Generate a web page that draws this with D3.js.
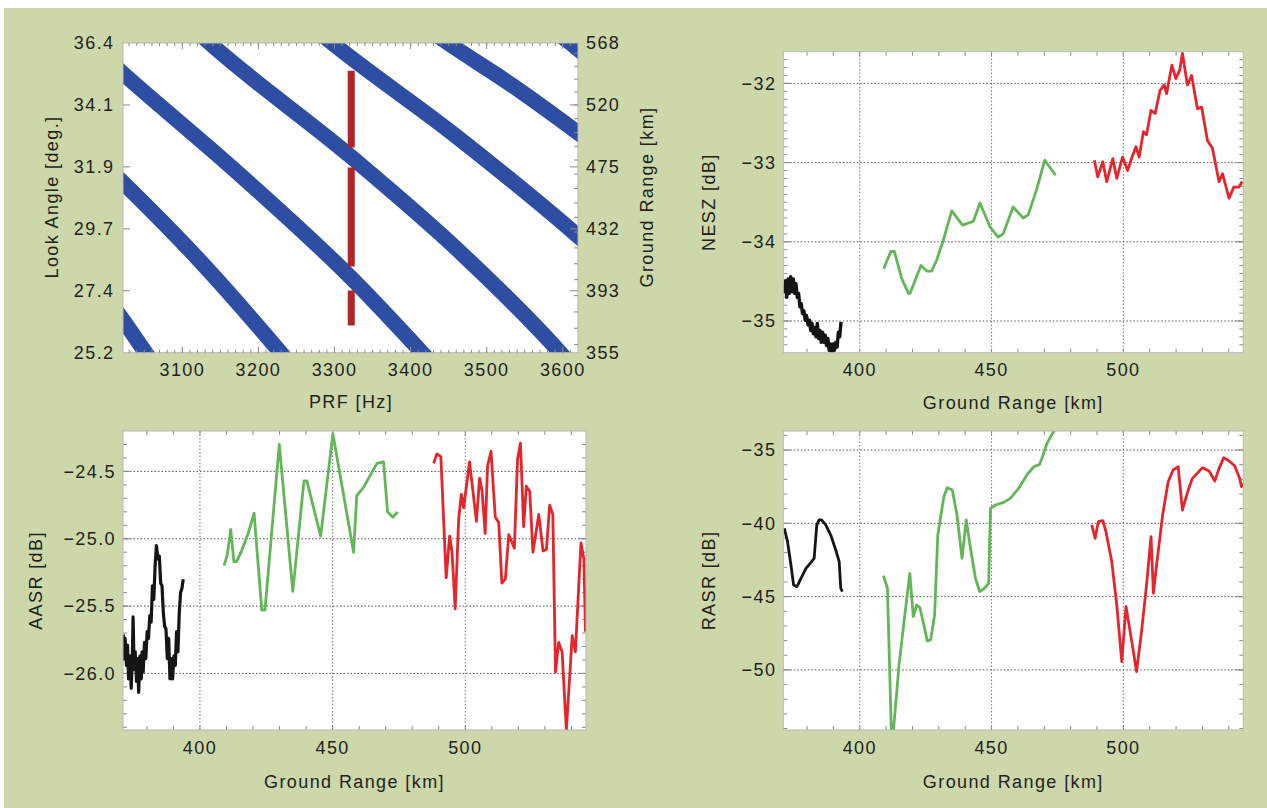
<!DOCTYPE html>
<html>
<head>
<meta charset="utf-8">
<script src="https://cdn.jsdelivr.net/npm/d3@7"></script>
<style>
  body { margin: 0; background: #fff; }
  svg text { font-family: "Liberation Sans", Arial, Helvetica, sans-serif; fill: #231f20; font-size: 18px; letter-spacing: 1.4px; }
</style>
</head>
<body>
<svg id="fig" width="1267" height="808"></svg>
<script>
// ---------- timing diagram (top left) ----------
// blanking bands, centre line as [PRF Hz, look angle deg]
const prfBands = [
  [[3005, 27.03], [3022, 26.38], [3051, 25.23], [3064, 24.72]],
  [[2998, 31.99], [3022, 31.35], [3123, 28.52], [3228, 25.24], [3244, 24.72]],
  [[2998, 35.89], [3022, 35.30], [3176, 31.63], [3322, 27.90], [3415, 25.20], [3431, 24.72]],
  [[3117, 36.87], [3136, 36.40], [3322, 32.28], [3465, 28.84], [3596, 25.22], [3612, 24.72]],
  [[3276, 36.87], [3297, 36.40], [3458, 33.07], [3620, 29.42], [3638, 28.99]],
  [[3428, 36.80], [3449, 36.40], [3535, 34.84], [3620, 33.15], [3638, 32.78]],
  [[3590, 36.80], [3610, 36.40], [3620, 36.18], [3638, 35.79]]
];
const selectedPrf = 3322;
const selectedSegments = [[35.40, 32.62], [31.90, 28.32], [27.45, 26.18]];
const lookTicks = [25.2, 27.44, 29.68, 31.92, 34.16, 36.4];
const lookTickLabels = ["25.2", "27.4", "29.7", "31.9", "34.1", "36.4"];
const rangeTicks = [355, 393, 432, 475, 520, 568];
const prfTicks = [3100, 3200, 3300, 3400, 3500, 3600];

// ---------- performance curves, [ground range km, dB] ----------
const neszBlack = [
  [371.3, -34.65], [371.8, -34.49], [372.3, -34.70], [372.8, -34.47], [373.3, -34.65], [373.8, -34.44],
  [374.3, -34.63], [374.8, -34.47], [375.3, -34.65], [375.8, -34.53], [376.3, -34.70], [376.8, -34.65],
  [377.3, -34.82], [377.8, -34.78], [378.3, -34.91], [378.8, -34.87], [379.3, -34.99], [379.8, -34.93],
  [380.4, -35.05], [380.9, -34.99], [381.4, -35.12], [381.9, -35.03], [382.4, -35.16], [382.9, -35.08],
  [383.4, -35.20], [383.9, -35.03], [384.4, -35.22], [384.9, -35.12], [385.4, -35.27], [385.9, -35.14],
  [386.4, -35.27], [386.9, -35.18], [387.4, -35.31], [387.9, -35.22], [388.4, -35.37], [388.9, -35.29],
  [389.4, -35.39], [389.9, -35.29], [390.4, -35.37], [390.9, -35.27], [391.4, -35.33], [391.9, -35.14],
  [392.4, -35.20], [392.9, -35.01]
];
const neszGreen = [
  [409.1, -34.34], [411.8, -34.12], [413.1, -34.12], [416.0, -34.47], [418.5, -34.65], [419.1, -34.65],
  [423.2, -34.30], [425.4, -34.37], [427.3, -34.37], [429.2, -34.23], [431.7, -33.98], [434.9, -33.61],
  [439.0, -33.79], [443.1, -33.74], [445.6, -33.51], [449.4, -33.81], [452.5, -33.94], [454.4, -33.90],
  [458.2, -33.56], [462.0, -33.70], [463.9, -33.66], [467.0, -33.35], [470.2, -32.97], [474.3, -33.16]
];
const neszRed = [
  [489.0, -32.97], [490.3, -33.18], [492.2, -32.99], [493.7, -33.24], [496.0, -32.95], [497.5, -33.20],
  [498.7, -33.05], [499.7, -32.93], [501.6, -33.10], [503.5, -32.91], [504.8, -32.80], [506.0, -32.93],
  [507.6, -32.61], [508.8, -32.65], [510.5, -32.34], [512.1, -32.38], [513.9, -32.09], [515.5, -32.02],
  [516.4, -32.13], [518.4, -31.77], [519.9, -31.94], [521.4, -31.83], [522.4, -31.62], [524.3, -32.02],
  [525.9, -31.90], [528.1, -32.32], [529.7, -32.30], [531.9, -32.72], [533.8, -32.82], [536.3, -33.24],
  [537.6, -33.14], [540.1, -33.45], [541.9, -33.31], [543.8, -33.31], [545.1, -33.24]
];

const aasrBlack = [
  [371.1, -25.71], [371.4, -25.89], [371.8, -25.74], [372.3, -25.94], [372.7, -25.79], [373.1, -26.04],
  [373.6, -25.87], [374.1, -26.11], [374.5, -25.89], [374.8, -25.58], [375.2, -25.97], [375.6, -25.84],
  [376.1, -26.06], [376.5, -25.89], [376.9, -26.14], [377.4, -25.87], [377.9, -26.04], [378.2, -25.84],
  [378.6, -25.99], [379.1, -25.77], [379.6, -25.89], [380.1, -25.69], [380.6, -25.74], [381.1, -25.57],
  [381.6, -25.62], [382.1, -25.35], [382.6, -25.45], [383.1, -25.20], [383.6, -25.05], [384.2, -25.15],
  [384.7, -25.13], [385.2, -25.33], [385.7, -25.35], [386.2, -25.55], [386.7, -25.65], [387.2, -25.67],
  [387.7, -25.89], [388.2, -25.74], [388.7, -26.04], [389.2, -25.89], [389.7, -26.04], [390.2, -25.87],
  [390.7, -25.94], [391.2, -25.69], [391.7, -25.84], [392.2, -25.55], [392.7, -25.40], [393.2, -25.37],
  [393.7, -25.30]
];
const aasrGreen = [
  [409.1, -25.20], [410.3, -25.12], [411.6, -24.93], [412.8, -25.17], [413.8, -25.17], [415.7, -25.09],
  [418.2, -24.96], [420.4, -24.81], [423.3, -25.53], [424.5, -25.53], [429.9, -24.30], [435.0, -25.39],
  [439.2, -24.57], [440.3, -24.57], [445.5, -24.98], [450.1, -24.22], [457.9, -25.10], [459.1, -24.68],
  [461.6, -24.62], [466.7, -24.44], [469.2, -24.43], [470.7, -24.80], [472.7, -24.84], [474.5, -24.80]
];
const aasrRed = [
  [488.1, -24.44], [489.3, -24.37], [490.8, -24.39], [492.8, -25.29], [494.1, -24.98], [495.0, -25.10],
  [496.2, -25.52], [497.5, -24.86], [498.5, -24.67], [499.4, -24.77], [501.6, -24.43], [504.2, -24.87],
  [505.4, -24.55], [506.3, -24.64], [507.5, -24.96], [508.4, -24.46], [509.7, -24.35], [511.3, -24.84],
  [512.6, -24.88], [513.8, -25.33], [515.1, -25.30], [516.4, -24.97], [518.5, -25.07], [519.7, -24.41],
  [520.8, -24.29], [522.0, -24.91], [523.0, -24.61], [524.3, -24.65], [525.5, -25.10], [527.7, -24.82],
  [529.3, -25.09], [530.6, -25.08], [531.8, -24.75], [533.0, -24.82], [534.0, -25.99], [535.2, -25.77],
  [536.5, -25.84], [538.1, -26.42], [540.3, -25.72], [541.5, -25.84], [543.6, -25.03], [544.7, -25.15],
  [545.3, -25.69]
];

const rasrBlack = [
  [371.4, -40.34], [372.6, -41.25], [373.9, -42.84], [374.9, -44.20], [376.2, -44.32], [377.7, -43.75],
  [379.6, -43.07], [381.2, -42.73], [382.7, -42.39], [383.7, -40.11], [384.6, -39.77], [385.5, -39.77],
  [387.1, -40.11], [389.0, -40.80], [390.9, -41.82], [392.2, -42.61], [392.8, -44.43], [393.4, -44.66]
];
const rasrGreen = [
  [409.0, -43.57], [410.5, -44.43], [412.0, -54.30], [412.7, -54.30], [414.9, -49.66], [416.8, -46.70],
  [419.0, -43.41], [420.3, -46.36], [421.6, -45.57], [422.8, -45.75], [424.3, -46.93], [425.6, -48.02],
  [426.9, -47.95], [428.4, -46.25], [429.6, -40.80], [431.9, -38.18], [433.2, -37.57], [435.1, -37.73],
  [436.9, -39.43], [438.8, -42.39], [440.4, -39.77], [442.0, -41.70], [443.9, -43.75], [445.5, -44.66],
  [447.3, -44.43], [448.9, -44.09], [449.6, -38.98], [451.5, -38.75], [454.6, -38.57], [457.1, -38.30],
  [460.3, -37.61], [463.4, -36.70], [466.0, -36.14], [468.2, -35.98], [469.1, -35.57], [471.0, -34.55],
  [472.9, -33.93], [474.8, -33.40]
];
const rasrRed = [
  [488.0, -40.11], [489.3, -41.02], [490.5, -39.89], [492.2, -39.82], [493.4, -40.57], [495.6, -42.61],
  [497.5, -45.57], [499.4, -49.43], [501.0, -45.68], [503.2, -48.07], [505.0, -50.11], [506.9, -47.39],
  [508.8, -44.20], [510.5, -40.91], [511.4, -44.77], [512.9, -42.39], [514.9, -39.43], [517.0, -37.16],
  [518.9, -36.36], [520.8, -36.14], [522.4, -39.09], [524.6, -37.73], [526.2, -36.93], [528.0, -36.59],
  [530.0, -36.20], [532.5, -36.43], [534.7, -37.11], [536.3, -36.25], [538.1, -35.52], [540.1, -35.75],
  [542.2, -36.07], [544.1, -36.93], [544.8, -37.50], [545.4, -37.27]
];

const rangeDomain = [371, 545.5];
const rangeMajor = [400, 450, 500];

const svg = d3.select("#fig");
const W = 1267, H = 808;

// background: green panel with thin white margin at top and left
svg.append("rect").attr("width", W).attr("height", H).attr("fill", "#fff");
svg.append("rect").attr("x", 4).attr("y", 8).attr("width", W - 4).attr("height", H - 8).attr("fill", "#ccd7aa");

const tickColor = "#8a8a8a";
const frameColor = "#b8b8b8";
let clipId = 0;

function addClip(x, y) {
  const id = "clip" + (clipId++);
  svg.append("clipPath").attr("id", id).append("rect")
    .attr("x", x.range()[0]).attr("y", y.range()[1])
    .attr("width", x.range()[1] - x.range()[0])
    .attr("height", y.range()[0] - y.range()[1]);
  return id;
}

function tickMarks(g, vals, pos, side, len, x, y) {
  const [xl, xr] = x.range(), [yb, yt] = y.range();
  g.selectAll(null).data(vals).join("line")
    .attr("stroke", tickColor).attr("stroke-width", 1)
    .attr("x1", d => side === "l" ? xl : side === "r" ? xr : pos(d))
    .attr("x2", d => side === "l" ? xl + len : side === "r" ? xr - len : pos(d))
    .attr("y1", d => side === "t" ? yt : side === "b" ? yb : pos(d))
    .attr("y2", d => side === "t" ? yt + len : side === "b" ? yb - len : pos(d));
}

// ---------- panel 1: timing diagram ----------
(function () {
  const x = d3.scaleLinear().domain([3022, 3620]).range([123, 578]);
  const y = d3.scaleLinear().domain([25.2, 36.4]).range([352.7, 43]);
  const g = svg.append("g");
  g.append("rect").attr("x", 123).attr("y", 43).attr("width", 455).attr("height", 309.7)
    .attr("fill", "#fff");

  const id = addClip(x, y);
  const plot = g.append("g").attr("clip-path", `url(#${id})`);
  const line = d3.line().x(d => x(d[0])).y(d => y(d[1])).curve(d3.curveMonotoneX);
  plot.selectAll("path.band").data(prfBands).join("path")
    .attr("class", "band")
    .attr("d", line).attr("fill", "none")
    .attr("stroke", "#2e4ea3").attr("stroke-width", 15.5);
  plot.selectAll("line.sel").data(selectedSegments).join("line")
    .attr("class", "sel")
    .attr("x1", x(selectedPrf)).attr("x2", x(selectedPrf))
    .attr("y1", d => y(d[0])).attr("y2", d => y(d[1]))
    .attr("stroke", "#b0242a").attr("stroke-width", 7);

  g.append("rect").attr("x", 123).attr("y", 43).attr("width", 455).attr("height", 309.7)
    .attr("fill", "none").attr("stroke", frameColor);

  const minorPrf = d3.range(3030, 3620, 10);
  tickMarks(g, minorPrf, x, "t", 3, x, y);
  tickMarks(g, minorPrf, x, "b", 3, x, y);
  tickMarks(g, prfTicks, x, "t", 6, x, y);
  tickMarks(g, prfTicks, x, "b", 6, x, y);
  tickMarks(g, lookTicks.slice(1, -1), y, "l", 7, x, y);

  // ground range on the right (non-uniform scale)
  const rangeToLook = d3.scaleLinear().domain(rangeTicks).range(lookTicks);
  const rangeMinor = d3.range(360, 568, 10);
  tickMarks(g, rangeMinor, d => y(rangeToLook(d)), "r", 4, x, y);
  tickMarks(g, rangeTicks.slice(1, -1), d => y(rangeToLook(d)), "r", 8, x, y);

  g.selectAll("text.yl").data(lookTicks).join("text").attr("class", "yl")
    .attr("x", 114.5).attr("y", d => y(d)).attr("dy", "0.35em").attr("text-anchor", "end")
    .text((d, i) => lookTickLabels[i]);
  g.selectAll("text.yr").data(rangeTicks).join("text").attr("class", "yr")
    .attr("x", 586).attr("y", d => y(rangeToLook(d))).attr("dy", "0.35em")
    .text(d => d);
  g.selectAll("text.xl").data(prfTicks).join("text").attr("class", "xl")
    .attr("x", d => x(d)).attr("y", 376).attr("text-anchor", "middle").text(d => d);

  g.append("text").attr("x", 351).attr("y", 408).attr("text-anchor", "middle").text("PRF [Hz]");
  g.append("text").attr("transform", "translate(52,197) rotate(-90)")
    .attr("text-anchor", "middle").attr("dy", "0.35em").text("Look Angle [deg.]");
  g.append("text").attr("transform", "translate(647,197) rotate(-90)")
    .attr("text-anchor", "middle").attr("dy", "0.35em").text("Ground Range [km]");
})();

// ---------- panels 2-4: NESZ / AASR / RASR ----------
function linePanel(o) {
  const x = d3.scaleLinear().domain(rangeDomain).range([o.left, o.right]);
  const y = d3.scaleLinear().domain(o.yDomain).range([o.bottom, o.top]);
  const g = svg.append("g");
  g.append("rect").attr("x", o.left).attr("y", o.top)
    .attr("width", o.right - o.left).attr("height", o.bottom - o.top).attr("fill", "#fff");

  // dotted grid
  g.selectAll("line.gx").data(rangeMajor).join("line").attr("class", "gx")
    .attr("x1", d => x(d)).attr("x2", d => x(d)).attr("y1", o.top).attr("y2", o.bottom)
    .attr("stroke", "#777").attr("stroke-width", 1).attr("stroke-dasharray", "1.5,2");
  g.selectAll("line.gy").data(o.yTicks).join("line").attr("class", "gy")
    .attr("y1", d => y(d)).attr("y2", d => y(d)).attr("x1", o.left).attr("x2", o.right)
    .attr("stroke", "#555").attr("stroke-width", 1).attr("stroke-dasharray", "1.5,2");

  const minorX = d3.range(380, 546, 10);
  tickMarks(g, minorX, x, "t", 4, x, y);
  tickMarks(g, minorX, x, "b", 4, x, y);
  tickMarks(g, o.yMinor, y, "l", 4, x, y);
  tickMarks(g, o.yMinor, y, "r", 4, x, y);
  tickMarks(g, o.yTicks, y, "l", 8, x, y);
  tickMarks(g, o.yTicks, y, "r", 8, x, y);

  const id = addClip(x, y);
  const plot = g.append("g").attr("clip-path", `url(#${id})`);
  const line = d3.line().x(d => x(d[0])).y(d => y(d[1]));
  o.series.forEach(s => {
    plot.append("path").datum(s.data).attr("d", line).attr("fill", "none")
      .attr("stroke", s.color).attr("stroke-width", s.width)
      .attr("stroke-linejoin", "round");
  });

  g.append("rect").attr("x", o.left).attr("y", o.top)
    .attr("width", o.right - o.left).attr("height", o.bottom - o.top)
    .attr("fill", "none").attr("stroke", frameColor);

  g.selectAll("text.yl").data(o.yTicks).join("text").attr("class", "yl")
    .attr("x", o.left - 7).attr("y", d => y(d)).attr("dy", "0.35em").attr("text-anchor", "end")
    .text(d => "\u2212" + d3.format(o.fmt)(Math.abs(d)));
  g.selectAll("text.xl").data(rangeMajor).join("text").attr("class", "xl")
    .attr("x", d => x(d)).attr("y", o.bottom + o.xlOff).attr("text-anchor", "middle").text(d => d);
  g.append("text").attr("x", (o.left + o.right) / 2).attr("y", o.bottom + o.xtOff)
    .attr("text-anchor", "middle").text("Ground Range [km]");
  g.append("text").attr("transform", `translate(${o.titleX},${(o.top + o.bottom) / 2}) rotate(-90)`)
    .attr("text-anchor", "middle").attr("dy", "0.35em").text(o.title);
}

const cBlack = "#151515", cGreen = "#62b658", cRed = "#e4252b";

linePanel({
  left: 783.3, right: 1243.3, top: 51.7, bottom: 352.7,
  yDomain: [-35.4, -31.6], yTicks: [-35, -34, -33, -32],
  yMinor: d3.range(-35.3, -31.6, 0.1), fmt: "d",
  title: "NESZ [dB]", titleX: 709, xlOff: 23.5, xtOff: 56,
  series: [
    { data: neszBlack, color: cBlack, width: 3.4 },
    { data: neszGreen, color: cGreen, width: 2.8 },
    { data: neszRed, color: cRed, width: 2.8 }
  ]
});

linePanel({
  left: 123, right: 586, top: 431, bottom: 730,
  yDomain: [-26.42, -24.2], yTicks: [-26.0, -25.5, -25.0, -24.5],
  yMinor: d3.range(-26.4, -24.2, 0.1), fmt: ".1f",
  title: "AASR [dB]", titleX: 36, xlOff: 24, xtOff: 57.5,
  series: [
    { data: aasrBlack, color: cBlack, width: 3.2 },
    { data: aasrGreen, color: cGreen, width: 2.8 },
    { data: aasrRed, color: cRed, width: 2.8 }
  ]
});

linePanel({
  left: 783.3, right: 1243.3, top: 431, bottom: 730,
  yDomain: [-54.1, -33.7], yTicks: [-50, -45, -40, -35],
  yMinor: d3.range(-54, -33.7, 1), fmt: "d",
  title: "RASR [dB]", titleX: 709, xlOff: 24, xtOff: 57.5,
  series: [
    { data: rasrBlack, color: cBlack, width: 2.8 },
    { data: rasrGreen, color: cGreen, width: 2.8 },
    { data: rasrRed, color: cRed, width: 2.8 }
  ]
});
</script>
</body>
</html>
